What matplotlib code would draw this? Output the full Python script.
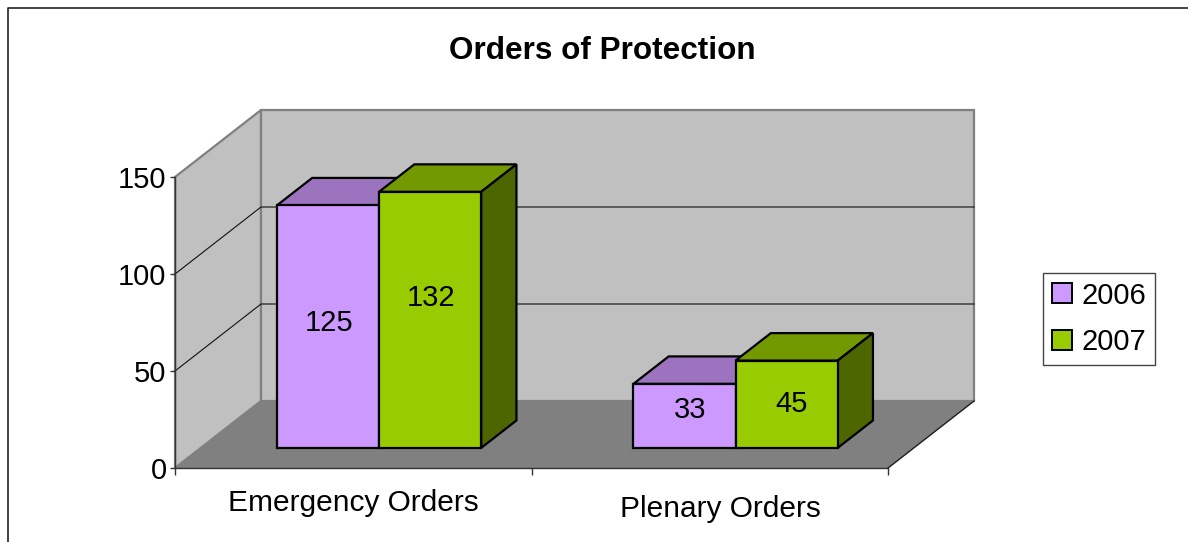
import matplotlib
matplotlib.use('Agg')
import matplotlib.pyplot as plt
from matplotlib.lines import Line2D
from matplotlib.patches import Patch

plt.rcParams['font.family'] = ['Liberation Sans', 'DejaVu Sans']

categories = ['Emergency Orders', 'Plenary Orders']
series_names = ['2006', '2007']
values_2006 = [125, 33]
values_2007 = [132, 45]
y_ticks = [0, 50, 100, 150]

# colores: frente, arriba, costado
COL_2006 = ['#CC99FF', '#9C73BF', '#7A5A96']
COL_2007 = ['#99CC00', '#739900', '#4D6600']
WALL = '#C0C0C0'
FLOOR = '#808080'

# profundidad del piso en unidades de datos
DX = 86 / 356.5
DY = 67 / 291 * 150
D0, D1 = 0.30, 0.71
BAR_W = 0.2865


def proy(x, y, d):
    return x + d * DX, y + d * DY


def cara(ax, puntos, color, ec='black', lw=1.6, z=3):
    xs = [proy(*p)[0] for p in puntos]
    ys = [proy(*p)[1] for p in puntos]
    ax.fill(xs, ys, facecolor=color, edgecolor=ec, linewidth=lw, zorder=z,
            clip_on=False, joinstyle='miter')


def barra3d(ax, x0, valor, cols, z):
    x1 = x0 + BAR_W
    cara(ax, [(x0, valor, D0), (x1, valor, D0), (x1, valor, D1), (x0, valor, D1)], cols[1], z=z)
    cara(ax, [(x1, 0, D0), (x1, 0, D1), (x1, valor, D1), (x1, valor, D0)], cols[2], z=z)
    fx, fy = proy(x0, 0, D0)
    ax.bar(fx, valor, BAR_W, bottom=fy, align='edge', color=cols[0], edgecolor='black',
           linewidth=1.6, zorder=z + 0.1, clip_on=False)


fig = plt.figure(figsize=(11.88, 5.42), dpi=100)
# el marco solo se ve arriba y a la izquierda
fig.add_artist(Line2D([7.5 / 1188, 7.5 / 1188, 1], [0, 1 - 8 / 542, 1 - 8 / 542], color='#222222',
                      linewidth=1.2, transform=fig.transFigure))

ax = fig.add_axes([175 / 1188, (542 - 468) / 542, 713 / 1188, 291 / 542])
ax.patch.set_visible(False)
ax.set_xlim(0, 2)
ax.set_ylim(0, 150)

# paredes y piso
cara(ax, [(0, 0, 0), (0, 150, 0), (0, 150, 1), (0, 0, 1)], WALL, ec=FLOOR, lw=1.6, z=1)
cara(ax, [(0, 0, 1), (2, 0, 1), (2, 150, 1), (0, 150, 1)], WALL, ec=FLOOR, lw=1.6, z=1)
cara(ax, [(0, 0, 0), (2, 0, 0), (2, 0, 1), (0, 0, 1)], FLOOR, ec=FLOOR, lw=0.8, z=1.5)
ax.plot(*zip(proy(2, 0, 0), proy(2, 0, 1)), color='#222222', lw=1.0, zorder=1.6, clip_on=False)

# grilla
for t in y_ticks[1:-1]:
    ax.plot(*zip(proy(0, t, 0), proy(0, t, 1), proy(2, t, 1)), color='#111111', lw=0.8,
            zorder=2, clip_on=False)

# barras
for i in range(len(categories)):
    x0 = i + 0.5 - BAR_W
    barra3d(ax, x0, values_2006[i], COL_2006, 3)
    barra3d(ax, x0 + BAR_W, values_2007[i], COL_2007, 4)

# etiquetas de valores (corrimiento en px respecto al centro del frente)
label_dx = [[1, 1], [6, 5]]
label_dy = [[4, 22], [6, 0]]
for i in range(len(categories)):
    for j, vals in enumerate([values_2006, values_2007]):
        fx, fy = proy(i + 0.5 - BAR_W + j * BAR_W + BAR_W / 2, vals[i] / 2, D0)
        ax.annotate(str(vals[i]), (fx, fy), xytext=(label_dx[i][j] * 0.72, label_dy[i][j] * 0.72),
                    textcoords='offset points', ha='center', va='center', fontsize=21,
                    zorder=6, annotation_clip=False)

# ejes
for lado in ['top', 'right']:
    ax.spines[lado].set_visible(False)
for lado in ['left', 'bottom']:
    ax.spines[lado].set_color('#333333')
    ax.spines[lado].set_linewidth(1.0)
    ax.spines[lado].set_zorder(2.5)
ax.set_yticks(y_ticks)
ax.set_xticks([0, 1, 2])
ax.set_xticklabels([])
ax.tick_params(axis='y', labelsize=21, length=5 * 0.72, width=1.0, color='#333333', pad=2.5)
ax.tick_params(axis='x', length=7 * 0.72, width=1.0, color='#333333')

label_pos = [(0.5, 0, 35), (1.5, 11, 41)]
for nombre, (xc, dx, off) in zip(categories, label_pos):
    ax.annotate(nombre, (xc, 0), xycoords=ax.get_xaxis_transform(),
                xytext=(dx * 0.72, -off * 0.72), textcoords='offset points', ha='center', va='center',
                fontsize=21.5, annotation_clip=False)

fig.text(602 / 1188, 1 - 51 / 542, 'Orders of Protection', ha='center', va='center',
         fontsize=22.7, fontweight='bold')

handles = [Patch(facecolor=COL_2006[0], edgecolor='black', linewidth=1.4),
           Patch(facecolor=COL_2007[0], edgecolor='black', linewidth=1.4)]
leg = fig.legend(handles, series_names, loc='center', bbox_to_anchor=(1099 / 1188, 1 - 319 / 542),
                 fontsize=21, frameon=True, fancybox=False, edgecolor='#444444', framealpha=1,
                 handlelength=0.68, handleheight=0.68, handletextpad=0.32, borderpad=0.3,
                 labelspacing=0.64, borderaxespad=0)
leg.get_frame().set_linewidth(1.0)

fig.savefig('out.png', dpi=100)
